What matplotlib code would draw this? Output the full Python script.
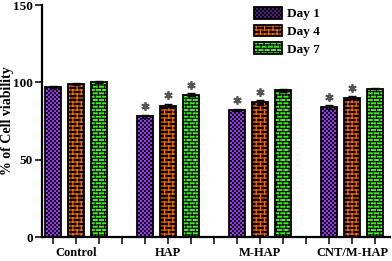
import numpy as np
import matplotlib
matplotlib.use('Agg')
import matplotlib.pyplot as plt
import matplotlib.hatch as mhatch
from matplotlib.path import Path
from matplotlib.legend_handler import HandlerTuple

# ---------------- data ----------------
groups = ['Control', 'HAP', 'M-HAP', 'CNT/M-HAP']
series = ['Day 1', 'Day 4', 'Day 7']
day1 = [97, 78, 82, 84]
day4 = [99, 85, 87, 90]
day7 = [100, 92, 95, 96]
err1 = [0.8, 1.0, 0.8, 1.2]
err4 = [0.6, 1.2, 1.4, 1.0]
err7 = [0.6, 1.0, 1.0, 0.5]
sig1 = [False, True, True, True]
sig4 = [False, True, True, True]
sig7 = [False, True, False, False]
yticks = [0, 50, 100, 150]

# ---------------- custom hatches ----------------
def make_brick_class(char, rows, cols):
    class BrickHatch(mhatch.HatchPatternBase):
        def __init__(self, hatch, density):
            self.segs = []
            if char in hatch:
                r, c = rows, cols
                h, w = 1.0 / r, 1.0 / c
                for i in range(r):
                    y = (i + 0.5) * h
                    self.segs.append(((0, y), (1, y)))
                for i in range(r):
                    y0 = (i + 0.5) * h
                    y1 = y0 + h
                    off = w * 0.25 if i % 2 == 0 else w * 0.75
                    for j in range(c):
                        x = j * w + off
                        if y1 > 1.0:
                            self.segs.append(((x, y0), (x, 1.0)))
                            self.segs.append(((x, 0.0), (x, y1 - 1.0)))
                        else:
                            self.segs.append(((x, y0), (x, y1)))
            self.num_vertices = 2 * len(self.segs)
            self.should_fill = False

        def set_vertices_and_codes(self, vertices, codes):
            for k, (a, b) in enumerate(self.segs):
                vertices[2 * k] = a
                vertices[2 * k + 1] = b
                codes[2 * k] = Path.MOVETO
                codes[2 * k + 1] = Path.LINETO
    return BrickHatch


class CheckHatch(mhatch.HatchPatternBase):
    n = 25
    frac = 0.34

    def __init__(self, hatch, density):
        self.squares = []
        if 'C' in hatch:
            p = 1.0 / self.n
            s = p * self.frac
            for i in range(self.n):
                for j in range(self.n):
                    for (dx, dy) in [(0.25, 0.25), (0.75, 0.75)]:
                        cx = (i + dx) * p
                        cy = (j + dy) * p
                        self.squares.append((cx - s / 2, cy - s / 2, s))
        self.num_vertices = 5 * len(self.squares)
        self.should_fill = True

    def set_vertices_and_codes(self, vertices, codes):
        for k, (x, y, s) in enumerate(self.squares):
            vertices[5 * k:5 * k + 5] = [(x, y), (x + s, y), (x + s, y + s),
                                         (x, y + s), (x, y)]
            codes[5 * k:5 * k + 5] = [Path.MOVETO, Path.LINETO, Path.LINETO,
                                      Path.LINETO, Path.CLOSEPOLY]


mhatch._hatch_types.extend([make_brick_class('B', 25, 12),
                            make_brick_class('G', 30, 16),
                            CheckHatch])
mhatch._validate_hatch_pattern = lambda h: None

# ---------------- style ----------------
plt.rcParams['font.family'] = ['Liberation Serif', 'DejaVu Serif']
plt.rcParams['font.weight'] = 'bold'

fig = plt.figure(figsize=(3.92, 2.61), dpi=100)
ax = fig.add_axes([42 / 392, 24 / 261, (390 - 42) / 392, (237 - 5) / 261])

styles = [
    dict(face='#9a32f0', hatch='C', hcolor='black', hlw=0.45),
    dict(face='black', hatch='B', hcolor='#ff6a00', hlw=0.85),
    dict(face='#3cf01a', hatch='G', hcolor='black', hlw=0.8),
]
values = [day1, day4, day7]
errors = [err1, err4, err7]
sigs = [sig1, sig4, sig7]

base = np.arange(len(groups)) * 4
width = 0.7
handles = []
for s, (vals, errs, sg, st) in enumerate(zip(values, errors, sigs, styles)):
    x = base + s
    plt.rcParams['hatch.linewidth'] = st['hlw']
    fill = ax.bar(x, vals, width, color=st['face'], edgecolor=st['hcolor'],
                  hatch=st['hatch'], linewidth=0, zorder=2)
    edge = ax.bar(x, vals, width, facecolor='none', edgecolor='black',
                  linewidth=1.3, zorder=3)
    ax.errorbar(x, vals, yerr=errs, fmt='none', ecolor='black',
                elinewidth=1.0, capsize=3, capthick=1.0, zorder=4)
    sx = [xi for xi, f in zip(x, sg) if f]
    sy = [v + e + 5.5 for v, e, f in zip(vals, errs, sg) if f]
    ax.plot(sx, sy, linestyle='none', marker=(6, 2, 0), markersize=6,
            markeredgewidth=1.3, color='#555555', zorder=5)
    handles.append((fill.patches[0], edge.patches[0]))

ax.set_ylim(0, 150)
ax.set_xlim(-0.48, 14.65)
ax.set_yticks(yticks)
ax.set_yticklabels([str(t) for t in yticks])

allpos = np.arange(0, 15)
ax.set_xticks(allpos)
labels = [''] * len(allpos)
for g, b in zip(groups, base):
    labels[b + 1] = g
ax.set_xticklabels(labels)

for sp in ['top', 'right']:
    ax.spines[sp].set_visible(False)
for sp in ['left', 'bottom']:
    ax.spines[sp].set_linewidth(1.6)
ax.tick_params(axis='both', direction='out', length=5, width=1.1)
ax.tick_params(axis='x', labelsize=9, pad=2.5)
ax.tick_params(axis='y', labelsize=9.5, pad=1.5)
for lab in ax.get_xticklabels() + ax.get_yticklabels():
    lab.set_fontweight('bold')

fig.text(8 / 392, 140 / 261, '% of Cell viability', rotation=90,
         ha='center', va='center', fontsize=10, fontweight='bold')

leg = ax.legend(handles, series, handler_map={tuple: HandlerTuple(ndivide=1, pad=0)},
                loc='upper left', bbox_to_anchor=(254 / 392, 1 - 7 / 261),
                bbox_transform=fig.transFigure, frameon=False,
                prop={'size': 9.5, 'weight': 'bold'},
                handlelength=2.15, handleheight=1.0, labelspacing=0.32,
                handletextpad=0.35, borderpad=0, borderaxespad=0)

fig.savefig('out.png', dpi=100)
